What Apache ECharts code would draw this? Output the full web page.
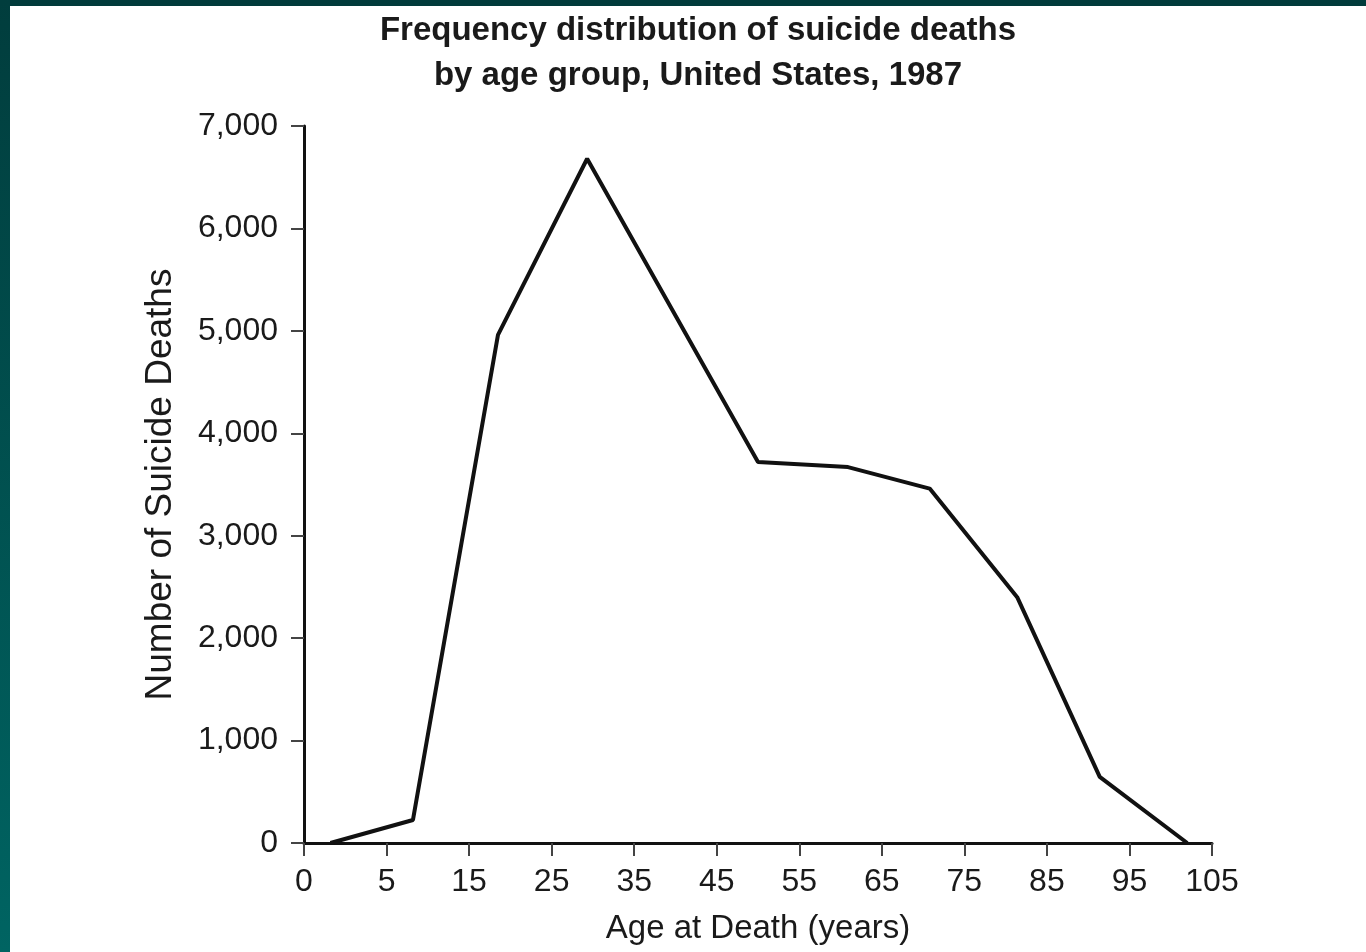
<!DOCTYPE html>
<html>
<head>
<meta charset="utf-8">
<script src="https://cdn.jsdelivr.net/npm/echarts@6/dist/echarts.min.js"></script>
<style>
  html, body { margin: 0; padding: 0; background: #ffffff; }
  #chart { position: absolute; left: 0; top: 0; width: 1366px; height: 952px; }
  #bt { position: absolute; left: 0; top: 0; width: 1366px; height: 6px; background: #013b3b; z-index: 5; }
  #bl { position: absolute; left: 0; top: 0; width: 10px; height: 952px; background: linear-gradient(#013d3d, #006462); z-index: 5; }
</style>
</head>
<body>
<div id="chart"></div>
<div id="bt"></div>
<div id="bl"></div>
<script>
// Tick labels of the age axis (equally spaced ticks)
const xTickLabels = ['0', '5', '15', '25', '35', '45', '55', '65', '75', '85', '95', '105'];
// Vertex positions along the age axis, in tick-index units (0 = tick "0", 1 = tick "5", ...)
const pointPositions = [0.32, 1.32, 2.35, 3.43, 5.50, 6.59, 7.58, 8.64, 9.64, 10.70];
// Number of suicide deaths at each vertex
const suicideDeaths = [0, 225, 4960, 6680, 3720, 3670, 3460, 2400, 645, 0];
const yTicks = [0, 1000, 2000, 3000, 4000, 5000, 6000, 7000];

const titleText = 'Frequency distribution of suicide deaths\nby age group, United States, 1987';
const xName = 'Age at Death (years)';
const yName = 'Number of Suicide Deaths';

const seriesData = pointPositions.map((p, i) => [p, suicideDeaths[i]]);
const font = 'Liberation Sans, Arial, sans-serif';

const chart = echarts.init(document.getElementById('chart'));
chart.setOption({
  backgroundColor: '#ffffff',
  animation: false,
  title: {
    text: titleText,
    left: 693,
    top: 3,
    textAlign: 'center',
    textStyle: { fontFamily: font, fontSize: 33, fontWeight: 'bold', color: '#1a1a1a', lineHeight: 45 }
  },
  grid: { left: 304, right: 154, top: 126, bottom: 109, containLabel: false },
  xAxis: {
    type: 'value',
    min: 0,
    max: xTickLabels.length - 1,
    interval: 1,
    name: xName,
    nameLocation: 'middle',
    nameGap: 69,
    nameTextStyle: { fontFamily: font, fontSize: 33, color: '#1a1a1a' },
    axisLine: { show: true, lineStyle: { color: '#111', width: 3 } },
    axisTick: { show: true, length: 13, lineStyle: { color: '#444', width: 2 } },
    axisLabel: {
      fontFamily: font, fontSize: 32, color: '#1a1a1a', margin: 23,
      formatter: v => xTickLabels[Math.round(v)] ?? ''
    },
    splitLine: { show: false }
  },
  yAxis: {
    type: 'value',
    min: yTicks[0],
    max: yTicks[yTicks.length - 1],
    interval: 1000,
    name: yName,
    nameLocation: 'middle',
    nameGap: 125,
    nameTextStyle: { fontFamily: font, fontSize: 37, color: '#1a1a1a' },
    axisLine: { show: true, lineStyle: { color: '#111', width: 3 } },
    axisTick: { show: true, length: 13, lineStyle: { color: '#444', width: 2 } },
    axisLabel: {
      fontFamily: font, fontSize: 32, color: '#1a1a1a', margin: 26,
      formatter: v => v.toLocaleString('en-US')
    },
    splitLine: { show: false }
  },
  series: [{
    type: 'line',
    data: seriesData,
    showSymbol: false,
    symbol: 'none',
    lineStyle: { color: '#111', width: 4 },
    z: 3
  }]
});
</script>
</body>
</html>
